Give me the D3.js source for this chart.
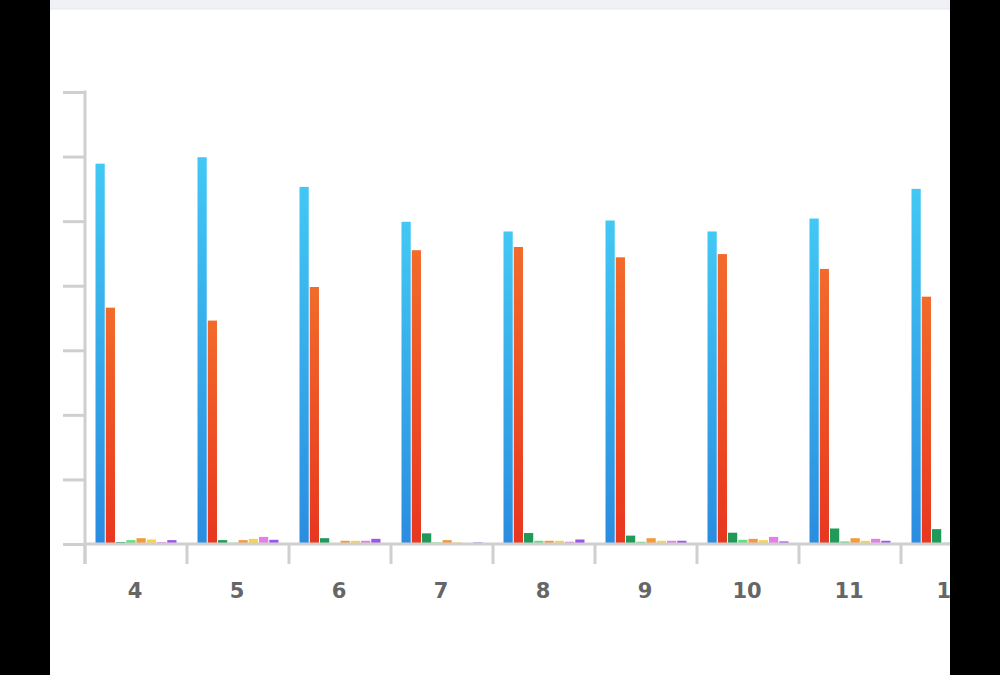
<!DOCTYPE html>
<html><head><meta charset="utf-8">
<script src="https://cdn.jsdelivr.net/npm/d3@7"></script>
<style>html,body{margin:0;padding:0;background:#fff;}svg{display:block;}</style>
</head><body>
<script>
const categories = ["4","5","6","7","8","9","10","11","12"];
const seriesNames = ["s1","s2","s3","s4","s5","s6","s7","s8"];
const s1 = [58.9,59.9,55.3,49.9,48.4,50.1,48.4,50.4,55.0];
const s2 = [36.6,34.6,39.8,45.5,46.0,44.4,44.9,42.6,38.3];
const s3 = [0.3,0.6,0.9,1.65,1.7,1.3,1.75,2.4,2.3];
const s4 = [0.6,0.2,0.15,0.25,0.5,0.35,0.65,0.4,0.2];
const s5 = [0.9,0.6,0.5,0.6,0.5,0.9,0.8,0.9,0.6];
const s6 = [0.7,0.8,0.5,0.25,0.5,0.5,0.6,0.5,0.5];
const s7 = [0.3,1.1,0.5,0.15,0.35,0.5,1.1,0.8,0.5];
const s8 = [0.6,0.65,0.8,0.25,0.7,0.5,0.4,0.5,0.5];
const yTicks = [0,10,20,30,40,50,60,70];
const seriesValues = [s1,s2,s3,s4,s5,s6,s7,s8];

const W=1000,H=675;
const svg=d3.select("body").append("svg").attr("width",W).attr("height",H);
const defs=svg.append("defs");
const gradStops=[["#42c8f4","#2a8ce0"],["#f26b2b","#e8361f"]];
gradStops.forEach((g,i)=>{
  const lg=defs.append("linearGradient").attr("id","g"+i).attr("x1",0).attr("y1",0).attr("x2",0).attr("y2",1);
  lg.append("stop").attr("offset","0%").attr("stop-color",g[0]);
  lg.append("stop").attr("offset","100%").attr("stop-color",g[1]);
});
const fills=["url(#g0)","url(#g1)","#1f9a58","#62e07c","#f59a3c","#f7d54a","#e47fe8","#9d55e8"];

// top strip
svg.append("rect").attr("x",50).attr("y",0).attr("width",900).attr("height",9).attr("fill","#eff1f6");
svg.append("line").attr("x1",50).attr("x2",950).attr("y1",9).attr("y2",9).attr("stroke","#e3e6ec").attr("stroke-width",1);

const x=d3.scaleBand().domain(categories).range([85,85+102*categories.length]).padding(0);
const xs=d3.scaleBand().domain(seriesNames).range([10.5,91.5]).paddingInner(0.1);
const y=d3.scaleLinear().domain([0,70]).range([544,92]);

const axisCol="#cfcfcf";
// y axis
const ya=svg.append("g").attr("transform","translate(85,0)")
  .call(d3.axisLeft(y).tickValues(yTicks).tickSize(22).tickFormat(""));
ya.select(".domain").remove();
ya.selectAll(".tick line").attr("stroke",axisCol).attr("stroke-width",3);
svg.append("line").attr("x1",85).attr("x2",85).attr("y1",90.5).attr("y2",564).attr("stroke",axisCol).attr("stroke-width",3);

// bars
const groups=svg.append("g").selectAll("g").data(categories).join("g")
  .attr("transform",d=>`translate(${x(d)},0)`);
groups.selectAll("rect").data((c,ci)=>seriesNames.map((s,si)=>({s,si,v:seriesValues[si][ci]})))
  .join("rect")
  .attr("x",d=>xs(d.s)).attr("width",xs.bandwidth())
  .attr("y",d=>y(d.v)).attr("height",d=>y(0)-y(d.v))
  .attr("fill",d=>fills[d.si]);

// x axis
const xa=svg.append("g").attr("transform","translate(-1,544)")
  .call(d3.axisBottom(x).tickSize(0).tickPadding(39));
xa.select(".domain").remove();
xa.selectAll("text").attr("fill","#666666").attr("font-family","'DejaVu Sans', Inter, sans-serif")
  .attr("font-weight",700).attr("font-size",21);
svg.append("line").attr("x1",85).attr("x2",1000).attr("y1",544).attr("y2",544).attr("stroke",axisCol).attr("stroke-width",3);
svg.append("g").selectAll("line").data(categories).join("line")
  .attr("x1",d=>x(d)).attr("x2",d=>x(d)).attr("y1",544).attr("y2",564)
  .attr("stroke",axisCol).attr("stroke-width",3);

// black side bars
svg.append("rect").attr("x",0).attr("y",0).attr("width",50).attr("height",H).attr("fill","#000");
svg.append("rect").attr("x",950).attr("y",0).attr("width",50).attr("height",H).attr("fill","#000");
</script>
</body></html>
